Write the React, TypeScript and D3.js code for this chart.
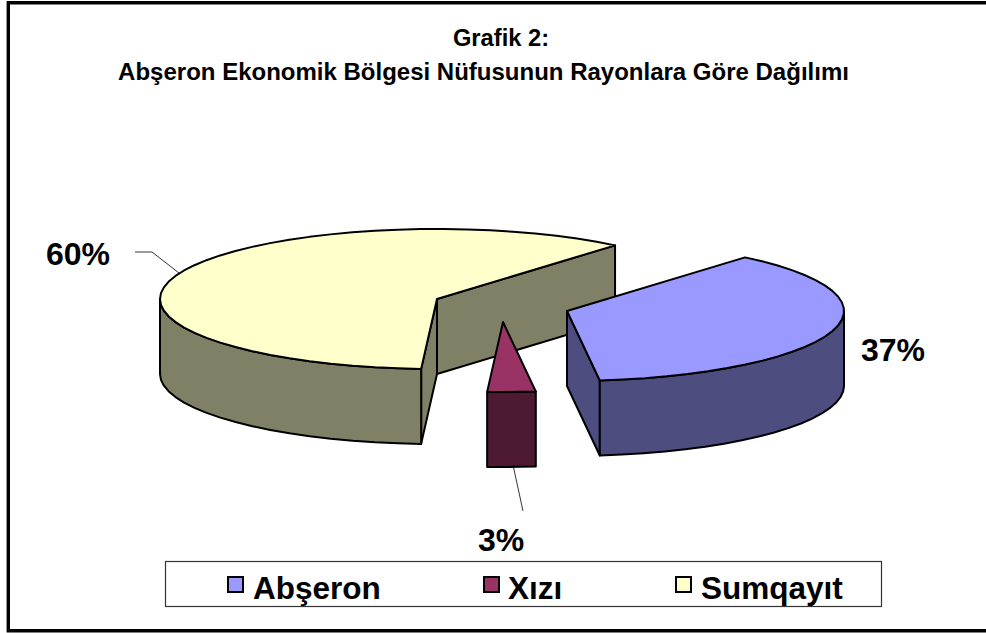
import React from "react";
import * as d3 from "d3";

const categories = ["Abşeron", "Xızı", "Sumqayıt"];
const values = [37, 2.8, 60.2];
const labels = ["37%", "3%", "60%"];
const topColors = ["#9999FF", "#993366", "#FFFFCC"];
const wallColors = ["#4D4D80", "#4D1933", "#808066"];
const titleLines = ["Grafik 2:", "Abşeron Ekonomik Bölgesi Nüfusunun Rayonlara Göre Dağılımı"];

const RX = 277, RY = 70, DEPTH = 75;
const centers: [number, number][] = [[567, 311], [503, 322], [437, 299]];
const FONT = "'Liberation Sans', Arial, sans-serif";

const pieGen = d3.pie<number>().sort(null).startAngle((40 * Math.PI) / 180).endAngle((400 * Math.PI) / 180);
const arcs = pieGen(values);

const pt = (c: [number, number], a: number, dz = 0): [number, number] => [
  c[0] + RX * Math.sin(a),
  c[1] - RY * Math.cos(a) + dz,
];

const lineGen = d3.line<[number, number]>();

function arcPts(c: [number, number], a0: number, a1: number, dz = 0) {
  const n = Math.max(2, Math.ceil(Math.abs(a1 - a0) / 0.085));
  return d3.range(n + 1).map((i) => pt(c, a0 + ((a1 - a0) * i) / n, dz));
}

function topPath(i: number) {
  const c = centers[i];
  return lineGen([c, ...arcPts(c, arcs[i].startAngle, arcs[i].endAngle), c]) + "Z";
}

function outerWall(i: number) {
  const c = centers[i];
  const a0 = Math.max(arcs[i].startAngle, Math.PI / 2);
  const a1 = Math.min(arcs[i].endAngle, (3 * Math.PI) / 2);
  const top = arcPts(c, a0, a1);
  const bot = arcPts(c, a1, a0, DEPTH);
  return lineGen([...top, ...bot]) + "Z";
}

function sideWall(i: number, a: number) {
  const c = centers[i];
  const p = pt(c, a);
  return lineGen([c, p, [p[0], p[1] + DEPTH], [c[0], c[1] + DEPTH]]) + "Z";
}

const stroke = { stroke: "#000", strokeWidth: 2, strokeLinejoin: "round" as const };
const order = [2, 1, 0];
const legendXs = [228, 484, 676];
const legendTextXs = [253, 508, 701];
const titleXs = [501, 483.5];
const titleYs = [46, 80];

export default function App() {
  return (
    <svg width={986} height={633} style={{ position: "absolute", left: 0, top: 0, background: "#fff" }} fontFamily={FONT} fontWeight="bold">
      <path d="M986,2.7H8.3V630.7H986" fill="none" stroke="#000" strokeWidth={3.4} />
      {titleLines.map((t, i) => (
        <text key={i} x={titleXs[i]} y={titleYs[i]} textAnchor="middle" fontSize={i === 0 ? 23.7 : 24} fill="#000">{t}</text>
      ))}
      {order.map((i) => (
        <g key={i}>
          {i === 2 && <path d={sideWall(i, arcs[i].endAngle - 2 * Math.PI)} fill={wallColors[i]} {...stroke} />}
          {i === 2 && <path d={sideWall(i, arcs[i].startAngle)} fill={wallColors[i]} {...stroke} />}
          {i === 0 && <path d={sideWall(i, arcs[i].endAngle)} fill={wallColors[i]} {...stroke} />}
          <path d={outerWall(i)} fill={wallColors[i]} {...stroke} />
          <path d={topPath(i)} fill={topColors[i]} {...stroke} />
        </g>
      ))}
      <polyline points="135,252 152,252 179,273" fill="none" stroke="#000" strokeWidth={0.8} />
      <line x1={513} y1={465} x2={523} y2={511} stroke="#000" strokeWidth={0.8} />
      <text x={46} y={265} fontSize={32} fill="#000">{labels[2]}</text>
      <text x={861} y={361} fontSize={32} fill="#000">{labels[0]}</text>
      <text x={478} y={551} fontSize={32} fill="#000">{labels[1]}</text>
      <rect x={165.5} y={561.5} width={716} height={45} fill="#fff" stroke="#333" strokeWidth={1.2} />
      {categories.map((c, i) => (
        <g key={c}>
          <rect x={legendXs[i]} y={577} width={15} height={15} fill={topColors[i]} stroke="#000" strokeWidth={2} />
          <text x={legendTextXs[i]} y={599} fontSize={31.5} fill="#000">{c}</text>
        </g>
      ))}
    </svg>
  );
}
